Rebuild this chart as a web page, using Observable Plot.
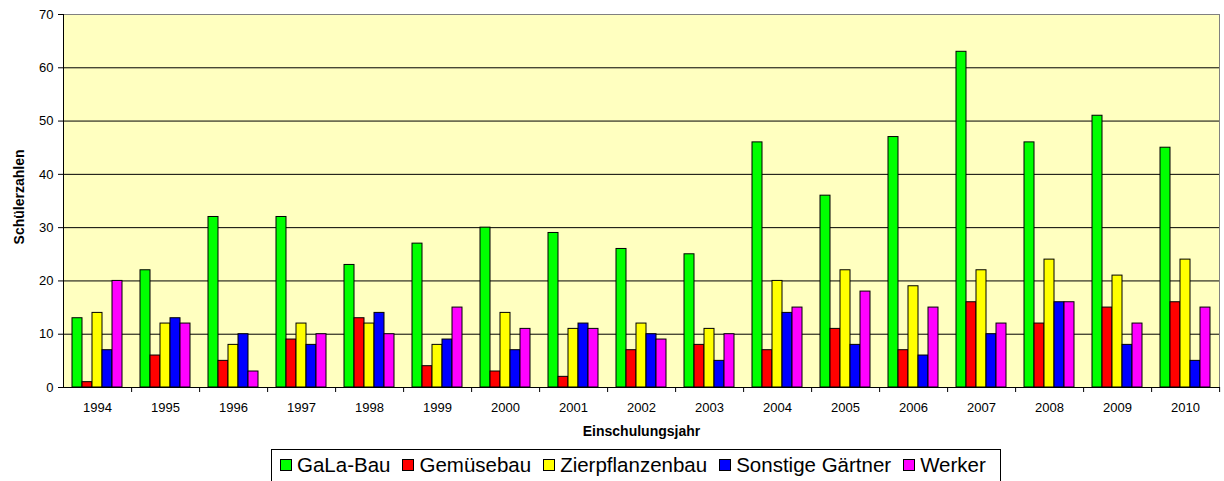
<!DOCTYPE html>
<html>
<head>
<meta charset="utf-8">
<script src="https://cdn.jsdelivr.net/npm/d3@7"></script>
<script src="https://cdn.jsdelivr.net/npm/@observablehq/plot@0.6"></script>
<style>
  body { margin: 0; background: #fff; font-family: "Liberation Sans", Arial, sans-serif; }
  #wrap { position: relative; width: 1224px; height: 481px; overflow: hidden; }
  #wrap svg { position: absolute; left: 0; top: 0; }
  #legend { position: absolute; left: 271px; top: 449px; width: 730px; height: 34px; border: 1px solid #000;
            box-sizing: border-box; display: flex; align-items: center; padding-left: 8px; padding-bottom: 2px; font-size: 20.5px; color: #000; white-space: nowrap; }
  .item { display: flex; align-items: center; margin-right: 12px; }
  .sw { width: 12px; height: 12px; border: 1px solid #000; box-sizing: border-box; margin-right: 5px; }
</style>
</head>
<body>
<div id="wrap"><div id="legend"></div></div>
<script>
const years = ["1994","1995","1996","1997","1998","1999","2000","2001","2002","2003","2004","2005","2006","2007","2008","2009","2010"];
const series = ["GaLa-Bau", "Gemüsebau", "Zierpflanzenbau", "Sonstige Gärtner", "Werker"];
const colors = ["#00ff00", "#ff0000", "#ffff00", "#0000ff", "#ff00ff"];

const galaBau         = [13, 22, 32, 32, 23, 27, 30, 29, 26, 25, 46, 36, 47, 63, 46, 51, 45];
const gemuesebau      = [ 1,  6,  5,  9, 13,  4,  3,  2,  7,  8,  7, 11,  7, 16, 12, 15, 16];
const zierpflanzenbau = [14, 12,  8, 12, 12,  8, 14, 11, 12, 11, 20, 22, 19, 22, 24, 21, 24];
const sonstigeGaertner= [ 7, 13, 10,  8, 14,  9,  7, 12, 10,  5, 14,  8,  6, 10, 16,  8,  5];
const werker          = [20, 12,  3, 10, 10, 15, 11, 11,  9, 10, 15, 18, 15, 12, 16, 12, 15];

const yTicks = [0, 10, 20, 30, 40, 50, 60, 70];
const yTitle = "Schülerzahlen";
const xTitle = "Einschulungsjahr";

const seriesValues = [galaBau, gemuesebau, zierpflanzenbau, sonstigeGaertner, werker];
const data = years.flatMap((year, i) => series.map((s, j) => ({year, series: s, value: seriesValues[j][i]})));

const W = 1224, ML = 61, MR = 3;
const step = (W - ML - MR) / years.length;

const chart = Plot.plot({
  width: W,
  height: 445,
  marginLeft: ML,
  marginRight: MR,
  marginTop: 14,
  marginBottom: 58,
  style: {fontFamily: "'Liberation Sans', Arial, sans-serif", fontSize: "13px", color: "#000", background: "transparent", overflow: "visible"},
  fx: {domain: years, padding: 0, label: null},
  x: {domain: series, paddingInner: 0, paddingOuter: 0.75, axis: null},
  y: {domain: [0, 70], label: null},
  color: {domain: series, range: colors},
  marks: [
    Plot.frame({facet: "super", fill: "#ffffc0", stroke: "#808080"}),
    Plot.gridY({ticks: yTicks.filter(t => t > 0 && t < 70), stroke: "#000", strokeOpacity: 1}),
    Plot.barY(data, {fx: "year", x: "series", y: "value", fill: "series", stroke: "#000", strokeWidth: 1}),
    Plot.frame({anchor: "bottom", stroke: "#000"}),
    Plot.frame({facet: "super", anchor: "left", stroke: "#000"}),
    Plot.axisY({ticks: yTicks, tickSize: 5, tickPadding: 5, label: null}),
    Plot.axisFx({anchor: "bottom", tickSize: 0, tickPadding: 15, label: null}),
    Plot.axisFx({anchor: "bottom", tickSize: 5, tickFormat: () => "", dx: step / 2, label: null}),
    Plot.text([yTitle], {facet: "super", text: d => d, frameAnchor: "left", textAnchor: "middle", rotate: -90, dx: -44, dy: -4, fontWeight: "bold", fontSize: 14}),
    Plot.text([xTitle], {facet: "super", text: d => d, frameAnchor: "bottom", textAnchor: "middle", dy: 48, fontWeight: "bold", fontSize: 14})
  ]
});
document.getElementById("wrap").prepend(chart);

const legend = document.getElementById("legend");
series.forEach((s, i) => {
  const item = document.createElement("div");
  item.className = "item";
  const sw = document.createElement("div");
  sw.className = "sw";
  sw.style.background = colors[i];
  const label = document.createElement("span");
  label.textContent = s;
  item.append(sw, label);
  legend.append(item);
});
</script>
</body>
</html>
